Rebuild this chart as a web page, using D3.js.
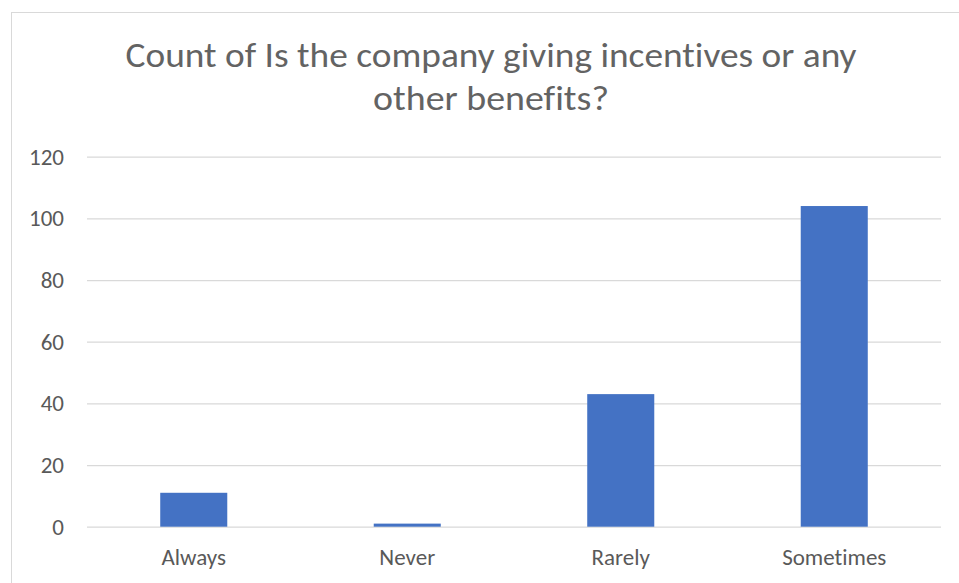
<!DOCTYPE html>
<html><head><meta charset="utf-8">
<script src="https://cdn.jsdelivr.net/npm/d3@7"></script>
<style>body{margin:0;background:#fff;}svg{display:block;} text{font-variant-ligatures:none;font-feature-settings:"liga" 0;}</style>
</head><body>
<svg id="c" width="959" height="583"></svg>
<script>
const categories = ["Always", "Never", "Rarely", "Sometimes"];
const counts = [11, 1, 43, 104];
const yTicks = [0, 20, 40, 60, 80, 100, 120];
const titleLines = ["Count of Is the company giving incentives or any", "other benefits?"];

const svg = d3.select("#c");
const font = "Carlito, Calibri, 'Open Sans', 'Noto Sans', sans-serif";
const grey = "#595959";

svg.append("rect").attr("x", 11.5).attr("y", 12.5).attr("width", 960).attr("height", 600)
  .attr("fill", "#fff").attr("stroke", "#d9d9d9").attr("stroke-width", 1);

const m = {left: 87, right: 941, top: 156.7, bottom: 526.7};
const x = d3.scaleBand().domain(categories).range([m.left, m.right]).paddingInner(0.686).paddingOuter(0.343);
const y = d3.scaleLinear().domain([0, 120]).range([m.bottom, m.top]);

const yAxis = d3.axisLeft(y).tickValues(yTicks).tickSize(-(m.right - m.left)).tickPadding(23);
const gy = svg.append("g").attr("transform", `translate(${m.left},0)`).call(yAxis);
gy.select(".domain").remove();
gy.selectAll(".tick line").attr("stroke", "#d9d9d9").attr("stroke-width", 1.3);
gy.selectAll(".tick text").attr("fill", grey).attr("font-family", font).attr("font-size", 23);

svg.append("g").selectAll("rect").data(categories).join("rect")
  .attr("x", d => x(d)).attr("width", x.bandwidth())
  .attr("y", (d, i) => y(counts[i])).attr("height", (d, i) => y(0) - y(counts[i]))
  .attr("fill", "#4472c4");

const xAxis = d3.axisBottom(x).tickSize(0).tickPadding(22);
const gx = svg.append("g").attr("transform", `translate(0,${m.bottom})`).call(xAxis);
gx.select(".domain").remove();
gx.selectAll(".tick text").attr("fill", grey).attr("font-family", font).attr("font-size", 23);

const tw = [731, 236];
svg.append("g").selectAll("text").data(titleLines).join("text")
  .attr("x", 491).attr("y", (d, i) => 67 + i * 43)
  .attr("text-anchor", "middle").attr("fill", "#636363")
  .attr("font-family", font).attr("font-size", 34)
  .attr("textLength", (d, i) => tw[i]).attr("lengthAdjust", "spacingAndGlyphs")
  .text(d => d);
</script>
</body></html>
